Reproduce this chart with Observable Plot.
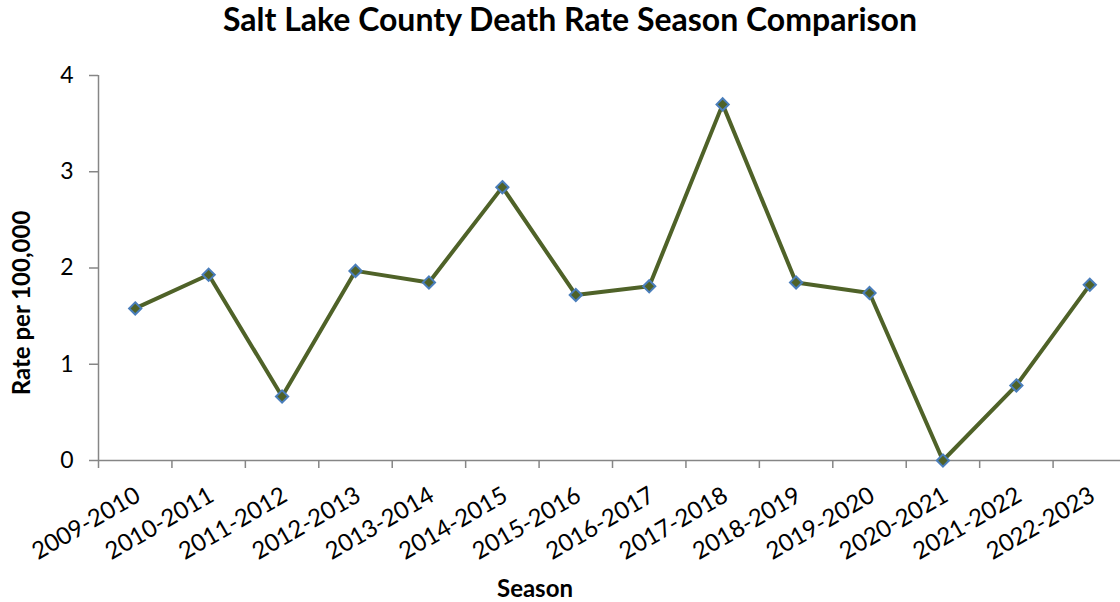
<!DOCTYPE html>
<html>
<head>
<meta charset="utf-8">
<script src="https://cdn.jsdelivr.net/npm/d3@7"></script>
<script src="https://cdn.jsdelivr.net/npm/@observablehq/plot@0.6"></script>
<style>
  html, body { margin: 0; padding: 0; background: #fff; }
  #wrap { position: relative; width: 1120px; height: 602px; overflow: hidden; font-family: Lato, "Open Sans", sans-serif; }
  #title { position: absolute; left: 0; top: -2px; width: 1140px; text-align: center; font-weight: bold; font-size: 32px; line-height: 42px; color: #000; }
  #chart { position: absolute; left: 0; top: 48px; }
  #xlabel { position: absolute; left: 435px; width: 200px; top: 573px; text-align: center; font-weight: bold; font-size: 24px; line-height: 30px; color: #000; }
</style>
</head>
<body>
<div id="wrap">
  <div id="title">Salt Lake County Death Rate Season Comparison</div>
  <div id="chart"></div>
  <div id="xlabel">Season</div>
</div>
<script>
// Flu seasons and the death rate per 100,000 for each
const seasons = [
  "2009-2010", "2010-2011", "2011-2012", "2012-2013", "2013-2014",
  "2014-2015", "2015-2016", "2016-2017", "2017-2018", "2018-2019",
  "2019-2020", "2020-2021", "2021-2022", "2022-2023"
];
const rates = [1.58, 1.93, 0.665, 1.97, 1.85, 2.84, 1.72, 1.81, 3.70, 1.85, 1.74, 0.0, 0.78, 1.825];
const yTicks = [0, 1, 2, 3, 4];

const data = seasons.map((s, i) => ({i, season: s, rate: rates[i]}));
const idx = d3.range(seasons.length);
// category boundaries, where the tick marks sit
const bounds = d3.range(seasons.length).map(i => i - 0.5);

const axisGray = "#868686";
const lineColor = "#4F6228";
const markerEdge = "#4A7EBB";

const chart = Plot.plot({
  width: 1120,
  height: 520,
  marginTop: 27,
  marginBottom: 108,
  marginLeft: 98,
  marginRight: 0,
  style: {fontFamily: "Lato, 'Open Sans', sans-serif", color: "#000", background: "transparent"},
  x: {type: "linear", domain: [-0.5, seasons.length - 0.5], range: [98, 98 + 73.43 * seasons.length]},
  y: {domain: [0, 4]},
  marks: [
    Plot.ruleX([-0.5], {stroke: axisGray, strokeWidth: 1.5}),
    Plot.ruleY([0], {stroke: axisGray, strokeWidth: 1.5}),
    Plot.axisY(yTicks, {
      tickSize: 9, tickPadding: 16, stroke: axisGray, strokeWidth: 1.5,
      fontSize: 23, label: null, tickFormat: d => String(d)
    }),
    Plot.axisX(bounds, {
      tickSize: 8, stroke: axisGray, strokeWidth: 1.5, tickFormat: () => "", label: null
    }),
    Plot.axisX(idx, {
      tickSize: 0, tickPadding: 33, tickRotate: -30, dx: 3, fontSize: 24,
      tickFormat: i => seasons[i], label: null
    }),
    Plot.text(["Rate per 100,000"], {
      frameAnchor: "left", textAnchor: "middle", rotate: -90, dx: -76, dy: 35,
      fontSize: 24, fontWeight: "bold", fill: "#000"
    }),
    Plot.line(data, {x: "i", y: "rate", stroke: lineColor, strokeWidth: 4, strokeLinejoin: "round"}),
    Plot.dot(data, {x: "i", y: "rate", symbol: "diamond2", r: 5.5, fill: lineColor, stroke: markerEdge, strokeWidth: 2})
  ]
});
document.getElementById("chart").appendChild(chart);
</script>
</body>
</html>
